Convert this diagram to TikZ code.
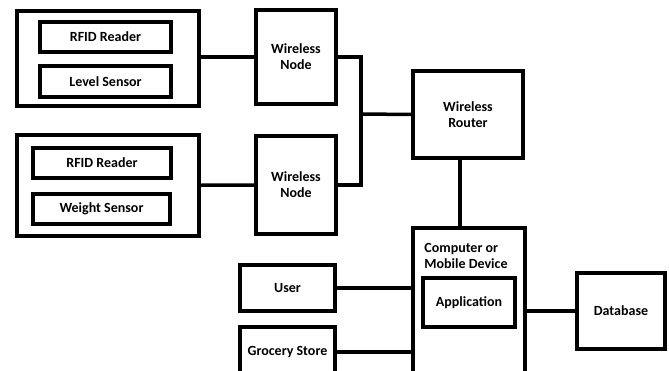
\documentclass[tikz,border=0pt]{standalone}
\usepackage{fontspec}
\setmainfont{Carlito}

\begin{document}
\begin{tikzpicture}[
        x=1pt, y=-1pt,
        line width=3.5pt,
        every node/.style={draw, line width=3.5pt, font=\fontsize{14}{16}\selectfont\bfseries, align=center, inner sep=0pt},
        plain/.style={draw=none}
    ]
    \clip (0,0) rectangle (669,371);
    \fill[white] (0,0) rectangle (669,371);

    \node[minimum width=182pt, minimum height=95pt] (station1) at (108,58.5) {};
    \node[minimum width=131pt, minimum height=30pt] (reader1) at (105.5,37) {RFID Reader};
    \node[minimum width=131pt, minimum height=31pt] (level) at (105.5,81.5) {Level Sensor};
    \node[minimum width=182pt, minimum height=101pt] (station2) at (108,185.5) {};
    \node[minimum width=138pt, minimum height=30pt] (reader2) at (102,163) {RFID Reader};
    \node[minimum width=137pt, minimum height=30pt] (weight) at (101.5,209) {Weight Sensor};
    \node[minimum width=80pt, minimum height=94pt] (node1) at (296,57) {Wireless\\Node};
    \node[minimum width=80pt, minimum height=98pt] (node2) at (296,185) {Wireless\\Node};
    \node[minimum width=110pt, minimum height=87pt] (router) at (468,114.5) {Wireless\\Router};
    \node[minimum width=112pt, minimum height=162pt] (computer) at (469,309) {};
    \node[plain, align=left] (devtitle) at (466,256) {Computer or\\Mobile Device};
    \node[minimum width=92pt, minimum height=49pt] (app) at (469,302.5) {Application};
    \node[minimum width=95pt, minimum height=46pt] (user) at (287.5,288) {User};
    \node[minimum width=95pt, minimum height=50pt] (grocery) at (287.5,352) {Grocery Store};
    \node[minimum width=88pt, minimum height=76pt] (database) at (621,311) {Database};

    \coordinate (junction) at (361,114);

    \draw (node1.west) -- (node1.west -| station1.east);
    \draw (station2) -- (node2);
    \draw (node1.east) -| (junction) |- (node2.east);
    \draw (junction) -- (router.west);
    \draw ([xshift=-8pt]router.south) -- ([xshift=-8pt]router.south |- computer.north);
    \draw (user.east) -- (user.east -| computer.west);
    \draw (grocery.east) -- (grocery.east -| computer.west);
    \draw (database.west) -- (database.west -| computer.east);
\end{tikzpicture}
\end{document}
